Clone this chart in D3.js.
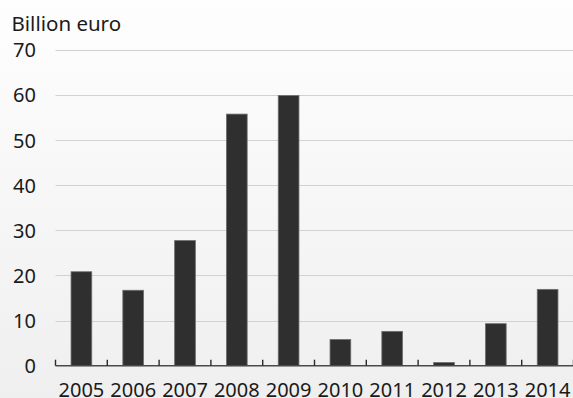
<!DOCTYPE html>
<html>
<head>
<meta charset="utf-8">
<script src="https://cdn.jsdelivr.net/npm/d3@7/dist/d3.min.js"></script>
<style>
  html, body { margin: 0; padding: 0; }
  body { width: 573px; height: 398px; overflow: hidden; }
  svg { display: block; font-family: "Noto Sans", "Open Sans", sans-serif; }
</style>
</head>
<body>
<svg id="chart" width="573" height="398"></svg>
<script>
// Annual amounts, billion euro
const years = ["2005", "2006", "2007", "2008", "2009", "2010", "2011", "2012", "2013", "2014"];
const values = [20.8, 16.7, 27.7, 55.7, 59.8, 5.8, 7.6, 0.7, 9.3, 16.9];
const yTicks = [0, 10, 20, 30, 40, 50, 60, 70];
const unitLabel = "Billion euro";

const W = 573, H = 398;
const margin = { left: 55.5, right: 0, top: 49.5, bottom: 32.3 };
const FONT = "'Noto Sans', 'Open Sans', sans-serif";

const svg = d3.select("#chart");

// soft vertical background shading
const defs = svg.append("defs");
const grad = defs.append("linearGradient").attr("id", "bg").attr("x1", 0).attr("y1", 0).attr("x2", 0).attr("y2", 1);
grad.append("stop").attr("offset", "0%").attr("stop-color", "#fefefe");
grad.append("stop").attr("offset", "100%").attr("stop-color", "#efefef");
svg.append("rect").attr("width", W).attr("height", H).attr("fill", "url(#bg)");

const x = d3.scaleBand()
  .domain(years)
  .range([margin.left, W - margin.right + 0.5])
  .paddingInner(0.6)
  .paddingOuter(0.3);

const y = d3.scaleLinear()
  .domain([0, 70])
  .range([H - margin.bottom, margin.top]);

// horizontal gridlines
svg.append("g")
  .selectAll("line")
  .data(yTicks.filter(d => d > 0))
  .join("line")
  .attr("x1", margin.left)
  .attr("x2", W)
  .attr("y1", d => Math.round(y(d)) + 0.5)
  .attr("y2", d => Math.round(y(d)) + 0.5)
  .attr("stroke", "#d2d2d2")
  .attr("stroke-width", 1.2);

// y-axis labels
const yAxis = d3.axisLeft(y).tickValues(yTicks).tickSize(0).tickPadding(0);
const gy = svg.append("g")
  .attr("transform", `translate(${margin.left - 19.5},0)`)
  .call(yAxis);
gy.select(".domain").remove();
gy.selectAll("text")
  .attr("font-size", 20)
  .attr("fill", "#1a1a1a")
  .attr("font-family", FONT)
  .attr("dy", "0.36em");

// bars
svg.append("g")
  .selectAll("rect")
  .data(years.map((yr, i) => ({ yr, v: values[i] })))
  .join("rect")
  .attr("x", d => x(d.yr))
  .attr("width", x.bandwidth())
  .attr("y", d => y(d.v))
  .attr("height", d => y(0) - y(d.v))
  .attr("fill", "#2f2f2f")
  .attr("stroke", "#6e6e6e")
  .attr("stroke-width", 0.8);

// x axis line with upward ticks at category boundaries
const step = x.step();
const bounds = d3.range(years.length + 1).map(i => margin.left + i * step);
const gx = svg.append("g");
gx.append("line")
  .attr("x1", margin.left)
  .attr("x2", W)
  .attr("y1", y(0))
  .attr("y2", y(0))
  .attr("stroke", "#4a4a4a")
  .attr("stroke-width", 1.6);
gx.selectAll("line.tick")
  .data(bounds)
  .join("line")
  .attr("class", "tick")
  .attr("x1", d => d)
  .attr("x2", d => d)
  .attr("y1", y(0))
  .attr("y2", y(0) - 6)
  .attr("stroke", "#2a2a2a")
  .attr("stroke-width", 1.4);

// year labels
const xAxis = d3.axisBottom(x).tickSize(0).tickPadding(0);
const gxl = svg.append("g")
  .attr("transform", `translate(0,${y(0) + 31.5})`)
  .call(xAxis);
gxl.select(".domain").remove();
gxl.selectAll("text")
  .attr("font-size", 20)
  .attr("fill", "#1a1a1a")
  .attr("font-family", FONT)
  .attr("dy", 0);

// unit label
svg.append("text")
  .attr("x", 11.5)
  .attr("y", 31)
  .attr("font-size", 20.5)
  .attr("fill", "#1a1a1a")
  .text(unitLabel);
</script>
</body>
</html>
